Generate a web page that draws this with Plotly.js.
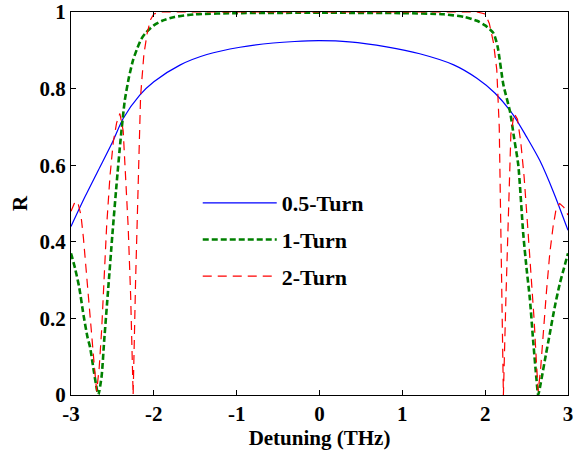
<!DOCTYPE html>
<html>
<head>
<meta charset="utf-8">
<script src="https://cdn.plot.ly/plotly-3.0.1.min.js"></script>
<style>html,body{margin:0;padding:0;background:#fff;}#chart{width:573px;height:451px;}</style>
</head>
<body>
<div id="chart"></div>
<script>
// 0.5-Turn
const x05 = [-3,-2.83,-2.67,-2.5,-2.37,-2.17,-2,-1.68,-1.36,-0.96,-0.56,-0.3,0,0.36,0.81,1.21,1.62,1.9,2.12,2.34,2.5,2.66,2.83,3];
const y05 = [0.44,0.518,0.587,0.66,0.722,0.783,0.818,0.862,0.889,0.908,0.919,0.923,0.925,0.922,0.909,0.891,0.862,0.827,0.788,0.731,0.674,0.612,0.527,0.43];
// 1-Turn
const x1 = [-3,-2.95,-2.9,-2.85,-2.8,-2.77,-2.73,-2.7,-2.67,-2.63,-2.6,-2.55,-2.5,-2.45,-2.4,-2.35,-2.3,-2.25,-2.2,-2.15,-2.1,-2,-1.9,-1.75,-1.5,-1,0,1,1.5,1.75,1.9,2,2.1,2.15,2.22,2.3,2.35,2.4,2.46,2.5,2.54,2.58,2.62,2.64,2.67,2.72,2.78,2.84,2.9,2.95,3];
const y1 = [0.37,0.33,0.28,0.21,0.15,0.125,0.07,0.03,0.0,0.05,0.14,0.28,0.42,0.55,0.67,0.77,0.83,0.875,0.905,0.93,0.945,0.965,0.977,0.987,0.994,0.997,0.998,0.997,0.994,0.987,0.977,0.965,0.945,0.91,0.81,0.74,0.67,0.6,0.42,0.33,0.25,0.14,0.04,0.0,0.03,0.09,0.16,0.23,0.29,0.33,0.37];
// 2-Turn
const x2 = [-3,-2.96,-2.92,-2.88,-2.85,-2.82,-2.78,-2.75,-2.72,-2.69,-2.66,-2.63,-2.6,-2.57,-2.53,-2.49,-2.45,-2.41,-2.37,-2.34,-2.31,-2.28,-2.25,-2.22,-2.19,-2.16,-2.12,-2.08,-2.04,-2,-1.9,0,1.9,2,2.05,2.1,2.14,2.17,2.19,2.22,2.25,2.28,2.31,2.35,2.39,2.43,2.47,2.51,2.55,2.59,2.62,2.64,2.67,2.7,2.74,2.78,2.82,2.86,2.9,2.95,3];
const y2 = [0.48,0.5,0.505,0.47,0.41,0.33,0.24,0.16,0.08,0.01,0.07,0.17,0.3,0.44,0.57,0.66,0.71,0.735,0.69,0.58,0.44,0.26,0.0,0.3,0.55,0.78,0.89,0.945,0.98,0.995,1.0,1.0,1.0,0.995,0.97,0.92,0.85,0.7,0.45,0.0,0.25,0.5,0.68,0.735,0.72,0.66,0.57,0.45,0.33,0.2,0.08,0.01,0.07,0.16,0.27,0.37,0.44,0.49,0.5,0.49,0.47];
const names = ['0.5-Turn','1-Turn','2-Turn'];
const xTicks = [-3,-2,-1,0,1,2,3];
const yTicks = [0,0.2,0.4,0.6,0.8,1];
const yTickText = ['0','0.2','0.4','0.6','0.8','1'];

const FONT = 'Liberation Serif, Times New Roman, serif';
const traces = [
  {x:x05, y:y05, name:names[0], legendgroup:'a', mode:'lines', line:{color:'#0000ff', width:1.2, shape:'spline', smoothing:0.8}},
  {x:x1, y:y1, name:names[1], legendgroup:'b', mode:'lines', line:{color:'#008000', width:2.6, dash:'6px,3px', shape:'spline', smoothing:0.6}},
  {x:x2, y:y2, name:names[2], legendgroup:'c', mode:'lines', line:{color:'#ff0000', width:1.2, dash:'9px,6px'}}
];
const axisCommon = {showgrid:false, zeroline:false, ticks:'inside', ticklen:5, tickwidth:1, tickcolor:'#000',
  showline:true, linecolor:'#000', linewidth:1, mirror:'allticks', ticklabeloverflow:'allow',
  tickfont:{family:FONT, size:21, weight:'bold', color:'#000'}};
const layout = {
  width:573, height:451,
  font:{family:FONT, weight:'bold', color:'#000'},
  margin:{l:71, r:5, t:12, b:56},
  paper_bgcolor:'#fff', plot_bgcolor:'#fff',
  showlegend:true,
  legend:{x:0.255, y:0.556, xanchor:'left', yanchor:'top', bgcolor:'rgba(0,0,0,0)', borderwidth:0,
    font:{family:FONT, size:22, weight:'bold', color:'#000'}, tracegroupgap:5, itemwidth:74},
  xaxis:Object.assign({}, axisCommon, {range:[-3,3], tickvals:xTicks, ticktext:xTicks.map(String),
    title:{text:'Detuning (THz)', font:{family:FONT, size:21, weight:'bold', color:'#000'}, standoff:3}}),
  yaxis:Object.assign({}, axisCommon, {range:[0,1], tickvals:yTicks, ticktext:yTickText,
    title:{text:'R', font:{family:FONT, size:21, weight:'bold', color:'#000'}, standoff:6}})
};
Plotly.newPlot('chart', traces, layout, {displayModeBar:false, staticPlot:true});
</script>
</body>
</html>
